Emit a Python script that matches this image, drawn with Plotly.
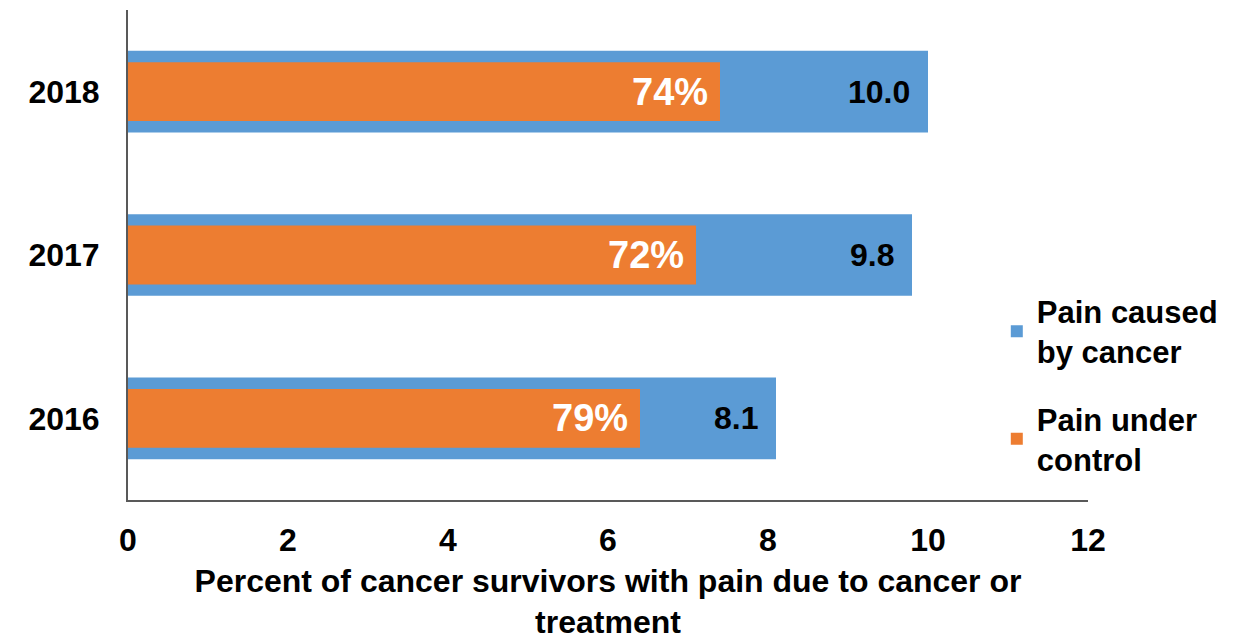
import plotly.graph_objects as go

years = ["2016", "2017", "2018"]
pain_caused = [8.1, 9.8, 10.0]
pain_caused_labels = ["8.1", "9.8", "10.0"]
under_control_len = [6.4, 7.1, 7.4]
under_control_labels = ["79%", "72%", "74%"]

x_ticks = [0, 2, 4, 6, 8, 10, 12]

BLUE = "#5B9BD5"
ORANGE = "#ED7D31"
FONT = "Arial, Liberation Sans, sans-serif"

fig = go.Figure()
fig.add_trace(go.Bar(
    y=years, x=pain_caused, orientation="h", width=0.5,
    marker=dict(color=BLUE, line=dict(width=0)),
    name="Pain caused<br>by cancer", legendgroup="a",
    hoverinfo="skip",
))
fig.add_trace(go.Bar(
    y=years, x=under_control_len, orientation="h", width=0.36,
    marker=dict(color=ORANGE, line=dict(width=0)),
    name="Pain under<br>control", legendgroup="b",
    hoverinfo="skip",
))

# category index positions (numeric-looking category names would be read as indices)
for i, (v, t) in enumerate(zip(pain_caused, pain_caused_labels)):
    fig.add_annotation(x=v, y=i, text=f"<b>{t}</b>", showarrow=False,
                       xanchor="right", yanchor="middle", xshift=-16,
                       font=dict(family=FONT, size=32, color="black"))
for i, (v, t) in enumerate(zip(under_control_len, under_control_labels)):
    fig.add_annotation(x=v, y=i, text=f"<b>{t}</b>", showarrow=False,
                       xanchor="right", yanchor="middle", xshift=-10,
                       font=dict(family=FONT, size=38, color="white"))

fig.update_layout(
    width=1256, height=642,
    barmode="overlay",
    plot_bgcolor="white", paper_bgcolor="white",
    margin=dict(l=120, r=176, t=2, b=150),
    font=dict(family=FONT, size=32, color="black"),
    legend=dict(
        x=0.905, y=0.44, xanchor="left", yanchor="top",
        traceorder="grouped", tracegroupgap=24,
        font=dict(family=FONT, size=31, color="black", weight="bold"),
        bgcolor="rgba(0,0,0,0)",
    ),
    xaxis=dict(
        range=[0, 12], tickvals=x_ticks, ticktext=[f"<b>{v}</b>" for v in x_ticks],
        showgrid=False, zeroline=False, showline=True,
        linecolor="#595959", linewidth=2, ticks="",
        tickfont=dict(family=FONT, size=32, color="black"),
        ticklabelstandoff=11,
        title=dict(text="<b>Percent of cancer survivors with pain due to cancer or<br>treatment</b>",
                   font=dict(family=FONT, size=32, color="black"), standoff=12),
        fixedrange=True,
    ),
    yaxis=dict(
        type="category", categoryorder="array", categoryarray=years,
        tickvals=years, ticktext=[f"<b>{y}</b>" for y in years],
        showgrid=False, zeroline=False, showline=True,
        linecolor="#595959", linewidth=2, ticks="",
        tickfont=dict(family=FONT, size=32, color="black"),
        ticklabelstandoff=20,
        range=[-0.5, 2.5],
        fixedrange=True,
    ),
)

fig.write_html("out.html")
